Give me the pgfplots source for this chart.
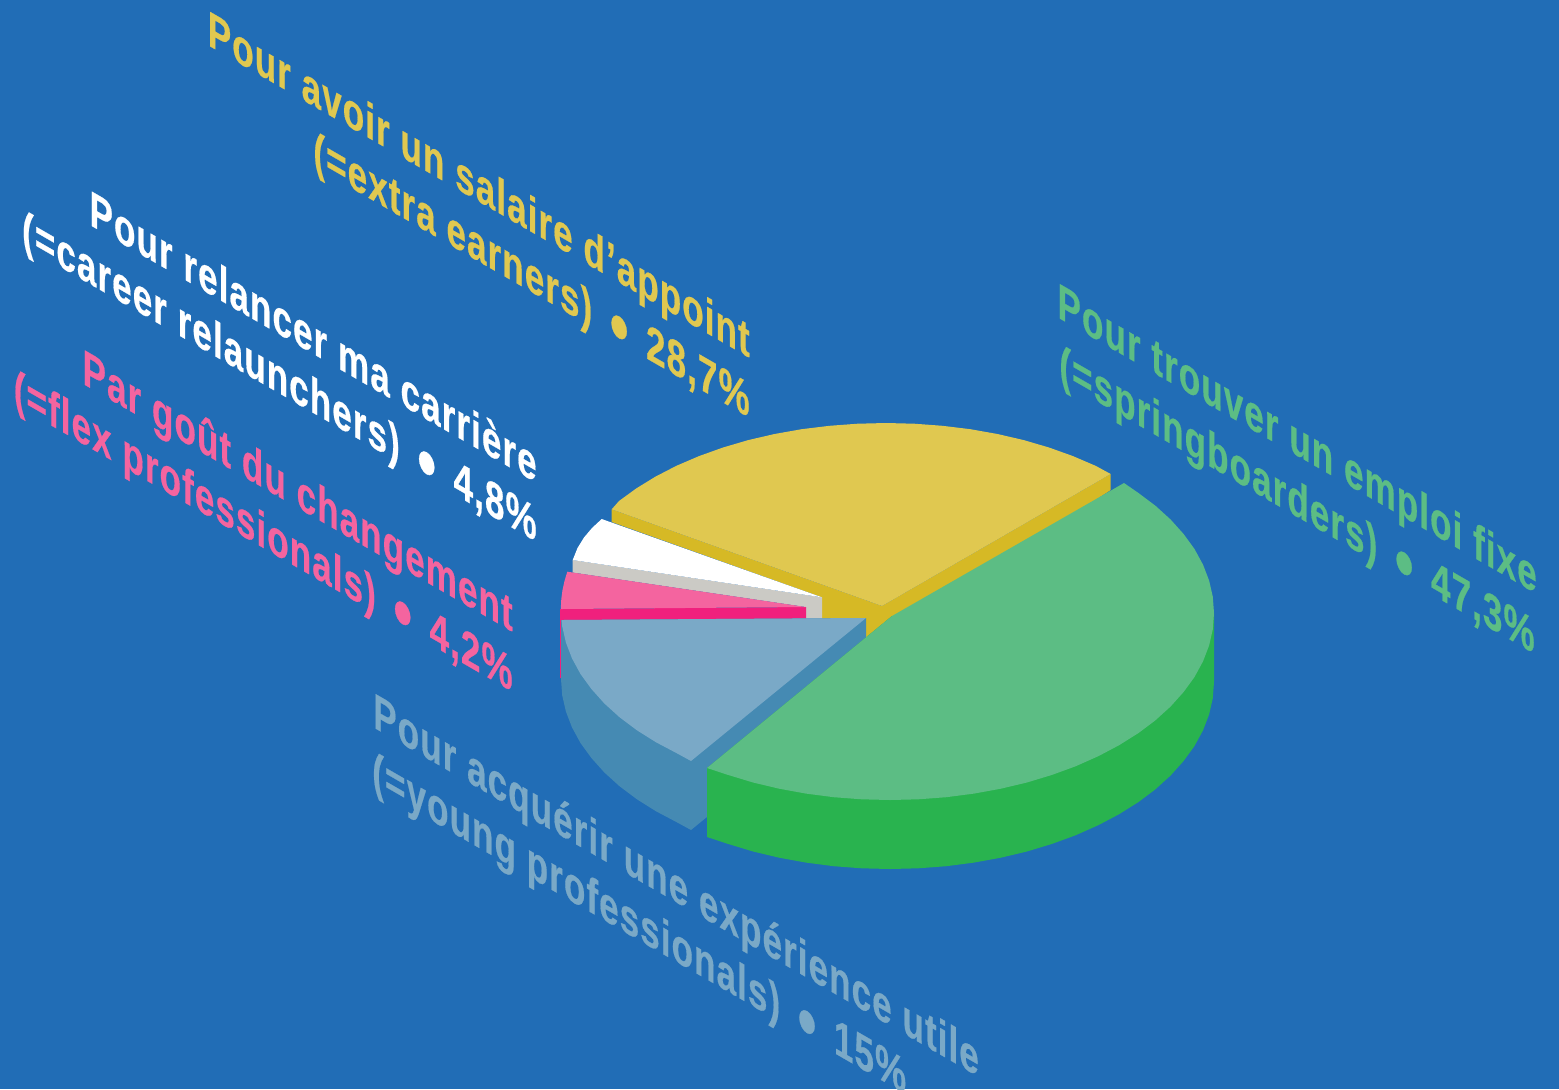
\documentclass[border=0pt]{standalone}
\usepackage{fontspec}
\usepackage{pgfplots}
\pgfplotsset{compat=1.18}
\newfontfamily\labfont[LetterSpace=3,BoldFeatures={FakeBold=0.5}]{Liberation Sans}
\newcommand{\bul}{\hspace{12.5pt}\raisebox{-5pt}{\fontsize{38}{38}\selectfont •}\hspace{12.5pt}}
\definecolor{bg}{HTML}{216DB6}
\definecolor{greenT}{HTML}{5CBD84}
\definecolor{greenS}{HTML}{29B34F}
\definecolor{yellowT}{HTML}{E0C850}
\definecolor{yellowS}{HTML}{D6B925}
\definecolor{whiteS}{HTML}{CBCAC5}
\definecolor{pinkT}{HTML}{F4649F}
\definecolor{pinkS}{HTML}{F0207D}
\definecolor{blueT}{HTML}{7AA9C7}
\definecolor{blueS}{HTML}{458AB3}
\tikzset{
  iso/.style={transform shape, cm={0.7015,-0.405,0,1,(0,0)}, inner sep=0pt,
    font=\labfont\bfseries\fontsize{25}{25}\selectfont},
}
\begin{document}
\begin{tikzpicture}
\path[use as bounding box, clip] (0,0) rectangle (779.5pt,544.5pt);
\begin{axis}[
    at={(0,0)}, anchor=south west,
    scale only axis, width=779.5pt, height=544.5pt,
    xmin=0, xmax=1559, ymin=0, ymax=1089,
    y dir=reverse, hide axis, clip=false,
]
% background
\addplot[draw=none, fill=bg] coordinates {(0,0)(1559,0)(1559,1089)(0,1089)};

% yellow slice
\addplot[draw=none, fill=yellowS] coordinates {(611.7,509.3)(611.7,522)(822,597.3)(822,640)(882,640)(1110.7,490)(1110.7,474)(882,606)};
\addplot[draw=none, fill=yellowT] coordinates {(882,606)(1110.7,474)(1095.6,465.8)(1073,456.1)(1049,447.5)(1023.8,440.1)(997.5,434)(970.4,429.2)(942.6,425.8)(914.4,423.7)(886,423)(857.6,423.7)(829.4,425.8)(801.6,429.2)(774.5,434)(748.2,440.1)(723,447.5)(699,456.1)(676.4,465.8)(655.5,476.6)(636.3,488.4)(619,501)(611.7,509.3)};

% white slice
\addplot[draw=none, fill=whiteS] coordinates {(572.7,560)(572.7,572.5)(806,607)(806,630)(822,630)(822,597.3)};
\addplot[draw=none, fill=white] coordinates {(822,597.3)(601.7,519)(592,528)(584,537.5)(577.5,548)(572.7,560)};

% pink slice
\addplot[draw=none, fill=pinkS] coordinates {(560,609)(806,607)(806,676)(560,678)};
\addplot[draw=none, fill=pinkT] coordinates {(806,607)(567.3,571.7)(564.5,581)(562.5,590)(561.3,599)(560.8,609)};

% light blue slice
\addplot[draw=none, fill=blueS] coordinates {(866,618)(866,687)(691,830)(676.7,822.2)(655.9,811.2)(636.8,799.2)(619.6,786.3)(604.4,772.5)(591.4,758)(580.5,743)(572,727.4)(565.9,711.5)(562.2,695.3)(561,679)(561,620)};
\addplot[draw=none, fill=blueT] coordinates {(866,618)(691,761)(676.7,753.2)(655.9,742.2)(636.8,730.2)(619.6,717.3)(604.4,703.5)(591.4,689)(580.5,674)(572,658.4)(565.9,642.5)(562.2,626.3)(561.5,620)};

% green slice
\addplot[draw=none, fill=greenS] coordinates {(1214,613)(1214,682)(1212.8,698.3)(1209.1,714.5)(1203,730.4)(1194.5,746)(1183.6,761)(1170.6,775.5)(1155.4,789.3)(1138.2,802.2)(1119.1,814.2)(1098.3,825.2)(1075.8,835.2)(1052,843.9)(1026.9,851.5)(1000.8,857.7)(973.9,862.6)(946.2,866.2)(918.3,868.3)(890,869)(861.7,868.3)(833.8,866.2)(806.1,862.6)(779.2,857.7)(753.1,851.5)(728,843.9)(707,837)(707,768)(892,616)};
\addplot[draw=none, fill=greenT] coordinates {(892,616)(1124,483)(1138.2,492.8)(1155.4,505.7)(1170.6,519.5)(1183.6,534)(1194.5,549)(1203,564.6)(1209.1,580.5)(1212.8,596.7)(1214,613)(1212.8,629.3)(1209.1,645.5)(1203,661.4)(1194.5,677)(1183.6,692)(1170.6,706.5)(1155.4,720.3)(1138.2,733.2)(1119.1,745.2)(1098.3,756.2)(1075.8,766.2)(1052,774.9)(1026.9,782.5)(1000.8,788.7)(973.9,793.6)(946.2,797.2)(918.3,799.3)(890,800)(861.7,799.3)(833.8,797.2)(806.1,793.6)(779.2,788.7)(753.1,782.5)(728,774.9)(707,768)};

% labels
\node[iso, anchor=base east, text=yellowT] at (axis cs:750,358) {Pour avoir un salaire d’appoint};
\node[iso, anchor=base east, text=yellowT] at (axis cs:750,418) {(=extra earners)\bul 28,7\%};
\node[iso, anchor=base east, text=white] at (axis cs:537,483) {Pour relancer ma carrière};
\node[iso, anchor=base east, text=white] at (axis cs:537,542) {(=career relaunchers)\bul 4,8\%};
\node[iso, anchor=base east, text=pinkT] at (axis cs:513,632) {Par goût du changement};
\node[iso, anchor=base east, text=pinkT] at (axis cs:513,692) {(=flex professionals)\bul 4,2\%};
\node[iso, anchor=base west, text=blueT] at (axis cs:373,727) {Pour acquérir une expérience utile};
\node[iso, anchor=base west, text=blueT] at (axis cs:372,786) {(=young professionals)\bul 15\%};
\node[iso, anchor=base east, text=greenT] at (axis cs:1537,594) {Pour trouver un emploi fixe};
\node[iso, anchor=base east, text=greenT] at (axis cs:1535,654) {(=springboarders)\bul 47,3\%};
\end{axis}
\end{tikzpicture}
\end{document}
